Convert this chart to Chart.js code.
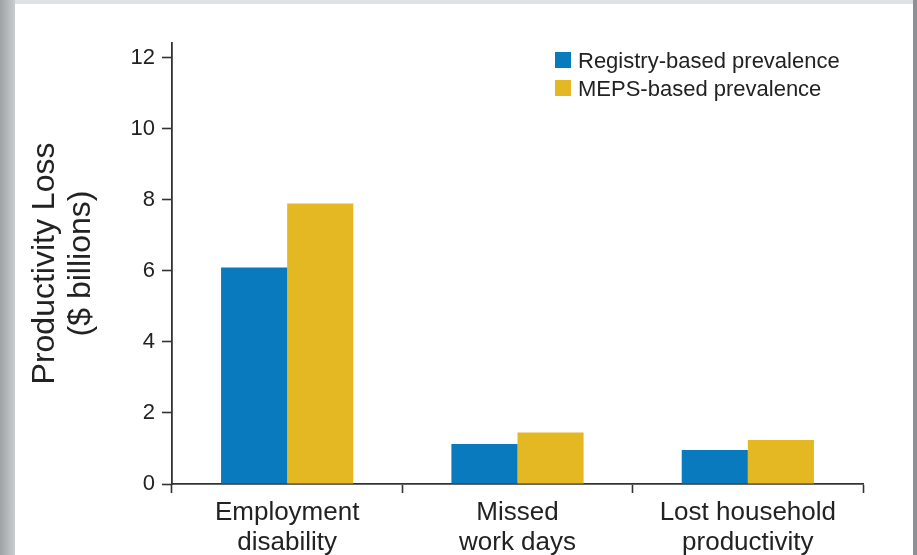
<!DOCTYPE html>
<html>
<head>
<meta charset="utf-8">
<script src="https://cdn.jsdelivr.net/npm/chart.js@4/dist/chart.umd.min.js"></script>
<style>
  html, body { margin: 0; padding: 0; overflow: hidden; }
  body {
    width: 917px; height: 555px; position: relative;
    background: linear-gradient(to right, #9ea2a6 0px, #c9cdd0 15px, #dfe2e5 15px);
    font-family: "Liberation Sans", Arial, sans-serif;
  }
  #sheet {
    position: absolute; left: 15px; top: 4px; width: 898px; height: 551px;
    background: #fff;
  }
  #edge {
    position: absolute; left: 913px; top: 0; width: 4px; height: 555px;
    background: #8e9194;
  }
  #wrap { position: absolute; left: 0; top: 0; width: 917px; height: 555px; }
  #legend { position: absolute; left: 555px; top: 52px; color: #222; font-size: 22px; }
  .item { position: relative; height: 28px; line-height: 17px; }
  .swatch { position: absolute; left: 0; top: 0; width: 16px; height: 16px; }
  .item span.txt { position: absolute; left: 23px; top: 0; white-space: nowrap; }
</style>
</head>
<body>
<div id="sheet"></div>
<div id="edge"></div>
<div id="wrap"><canvas id="chart"></canvas></div>
<div id="legend"></div>

<script>
const categories = [["Employment", "disability"], ["Missed", "work days"], ["Lost household", "productivity"]];
const seriesNames = ["Registry-based prevalence", "MEPS-based prevalence"];
const registryValues = [6.1, 1.13, 0.96];
const mepsValues = [7.9, 1.45, 1.24];
const yTicks = [0, 2, 4, 6, 8, 10, 12];
const colors = ["#0a7abf", "#e4b823"];

const ink = "#222";
const axisColor = "#333";

const datasets = [registryValues, mepsValues].map((vals, i) => ({
  label: seriesNames[i],
  data: vals,
  backgroundColor: colors[i],
  borderWidth: 0,
  barPercentage: 1,
  categoryPercentage: 0.574
}));

// legend stacked in the top right corner
const legendBox = document.getElementById("legend");
datasets.forEach(ds => {
  const row = document.createElement("div");
  row.className = "item";
  row.innerHTML = `<span class="swatch" style="background:${ds.backgroundColor}"></span><span class="txt">${ds.label}</span>`;
  legendBox.appendChild(row);
});

new Chart(document.getElementById("chart"), {
  type: "bar",
  data: { labels: categories, datasets },
  options: {
    responsive: true,
    maintainAspectRatio: false,
    animation: false,
    layout: { padding: { top: 43, right: 54, left: 0, bottom: 0 } },
    plugins: { legend: { display: false }, tooltip: { enabled: false } },
    scales: {
      x: {
        afterFit: s => { s.height = 71; },
        grid: {
          offset: true,
          drawOnChartArea: false,
          tickLength: 9,
          tickWidth: 1.6,
          tickColor: axisColor
        },
        border: { color: axisColor, width: 1.8 },
        ticks: {
          color: ink,
          padding: 5,
          font: { family: "Liberation Sans", size: 26, lineHeight: 1.15 },
          maxRotation: 0
        }
      },
      y: {
        min: 0,
        max: 12.42,
        afterFit: s => { s.width = 172; },
        afterBuildTicks: s => { s.ticks = yTicks.map(v => ({ value: v })); },
        grid: {
          drawOnChartArea: false,
          tickLength: 10,
          tickWidth: 1.6,
          tickColor: axisColor
        },
        border: { color: axisColor, width: 1.8 },
        ticks: {
          color: ink,
          padding: 7,
          font: { family: "Liberation Sans", size: 22 }
        },
        title: {
          display: true,
          text: ["Productivity Loss", "($ billions)"],
          color: ink,
          padding: { top: 28, bottom: 0 },
          font: { family: "Liberation Sans", size: 32, lineHeight: 1.1 }
        }
      }
    }
  }
});
</script>
</body>
</html>
